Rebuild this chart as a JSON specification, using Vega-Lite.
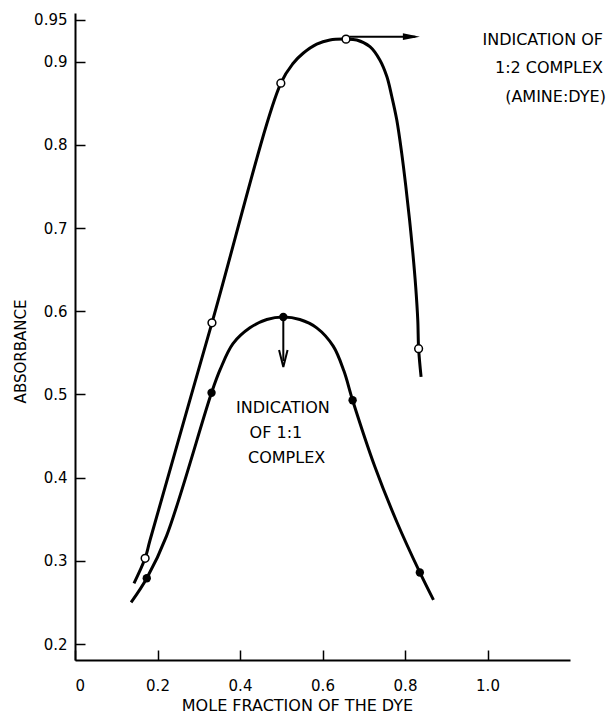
{
  "$schema": "https://vega.github.io/schema/vega-lite/v6.json",
  "width": 495,
  "height": 647,
  "autosize": {"type": "none"},
  "padding": {"left": 75, "top": 13, "right": 45, "bottom": 53},
  "background": "white",
  "config": {
    "view": {"stroke": null},
    "font": "DejaVu Sans",
    "axis": {
      "grid": false,
      "domainColor": "black",
      "domainWidth": 2,
      "tickColor": "black",
      "tickWidth": 1.5,
      "tickSize": -10,
      "labelColor": "black",
      "titleColor": "black",
      "titleFontWeight": "normal"
    }
  },
  "datasets": {
    "upperCurve": [
      {"x": 0.143, "y": 0.273},
      {"x": 0.170, "y": 0.303},
      {"x": 0.182, "y": 0.325},
      {"x": 0.332, "y": 0.586},
      {"x": 0.499, "y": 0.874},
      {"x": 0.529, "y": 0.898},
      {"x": 0.553, "y": 0.910},
      {"x": 0.586, "y": 0.921},
      {"x": 0.618, "y": 0.926},
      {"x": 0.657, "y": 0.927},
      {"x": 0.683, "y": 0.926},
      {"x": 0.715, "y": 0.918},
      {"x": 0.739, "y": 0.902},
      {"x": 0.756, "y": 0.882},
      {"x": 0.768, "y": 0.858},
      {"x": 0.780, "y": 0.830},
      {"x": 0.792, "y": 0.790},
      {"x": 0.802, "y": 0.750},
      {"x": 0.811, "y": 0.710},
      {"x": 0.819, "y": 0.670},
      {"x": 0.826, "y": 0.629},
      {"x": 0.831, "y": 0.589},
      {"x": 0.833, "y": 0.555},
      {"x": 0.839, "y": 0.521}
    ],
    "lowerCurve": [
      {"x": 0.136, "y": 0.250},
      {"x": 0.174, "y": 0.279},
      {"x": 0.222, "y": 0.330},
      {"x": 0.331, "y": 0.502},
      {"x": 0.352, "y": 0.530},
      {"x": 0.383, "y": 0.561},
      {"x": 0.424, "y": 0.580},
      {"x": 0.465, "y": 0.590},
      {"x": 0.505, "y": 0.593},
      {"x": 0.545, "y": 0.590},
      {"x": 0.586, "y": 0.580},
      {"x": 0.626, "y": 0.558},
      {"x": 0.652, "y": 0.528},
      {"x": 0.673, "y": 0.493},
      {"x": 0.727, "y": 0.413},
      {"x": 0.780, "y": 0.347},
      {"x": 0.836, "y": 0.286},
      {"x": 0.869, "y": 0.253}
    ],
    "upperPoints": [
      {"x": 0.170, "y": 0.303},
      {"x": 0.332, "y": 0.586},
      {"x": 0.499, "y": 0.874},
      {"x": 0.657, "y": 0.927},
      {"x": 0.833, "y": 0.555}
    ],
    "lowerPoints": [
      {"x": 0.174, "y": 0.279},
      {"x": 0.331, "y": 0.502},
      {"x": 0.505, "y": 0.593},
      {"x": 0.673, "y": 0.493},
      {"x": 0.836, "y": 0.286}
    ],
    "arrowShafts": [
      {"x": 0.665, "y": 0.930, "x2": 0.825, "y2": 0.930},
      {"x": 0.505, "y": 0.593, "x2": 0.505, "y2": 0.540}
    ],
    "arrowRight": [{"x": 0.836, "y": 0.930}],
    "arrowDown": [{"x": 0.505, "y": 0.533}],
    "labelRight": [
      {"x": 1.28, "y": 0.926, "label": "INDICATION OF"},
      {"x": 1.28, "y": 0.892, "label": "1:2 COMPLEX"},
      {"x": 1.287, "y": 0.857, "label": "(AMINE:DYE)"}
    ],
    "labelCenter": [
      {"x": 0.504, "y": 0.484, "label": "INDICATION"},
      {"x": 0.487, "y": 0.454, "label": "OF 1:1"},
      {"x": 0.513, "y": 0.424, "label": "COMPLEX"}
    ]
  },
  "encoding": {
    "x": {
      "field": "x",
      "type": "quantitative",
      "scale": {"domain": [0, 1.2], "nice": false, "zero": false},
      "axis": {
        "values": [0, 0.2, 0.4, 0.6, 0.8, 1.0],
        "labelExpr": "datum.value == 0 ? '0' : format(datum.value, '.1f')",
        "labelFont": "DejaVu Sans",
        "labelFontSize": 15,
        "labelColor": "black",
        "labelPadding": 28,
        "tickSize": -10,
        "title": "MOLE FRACTION OF THE DYE",
        "titleFont": "DejaVu Sans",
        "titleFontSize": 16,
        "titleFontWeight": "normal",
        "titleX": 222,
        "titleY": 45,
        "titleAlign": "center",
        "titleBaseline": "middle"
      }
    },
    "y": {
      "field": "y",
      "type": "quantitative",
      "scale": {"domain": [0.1808, 0.9584], "nice": false, "zero": false},
      "axis": {
        "values": [0.2, 0.3, 0.4, 0.5, 0.6, 0.7, 0.8, 0.9, 0.95],
        "format": ".2~f",
        "labelFont": "DejaVu Sans",
        "labelFontSize": 15,
        "labelColor": "black",
        "labelPadding": 18,
        "tickSize": -10,
        "title": "ABSORBANCE",
        "titleFont": "DejaVu Sans",
        "titleFontSize": 15,
        "titleFontWeight": "normal",
        "titleAngle": 270,
        "titleX": -55,
        "titleY": 338,
        "titleAlign": "center",
        "titleBaseline": "middle"
      }
    }
  },
  "layer": [
    {
      "data": {"name": "upperCurve"},
      "mark": {"type": "line", "color": "black", "strokeWidth": 3, "interpolate": "catmull-rom"}
    },
    {
      "data": {"name": "lowerCurve"},
      "mark": {"type": "line", "color": "black", "strokeWidth": 3, "interpolate": "catmull-rom"}
    },
    {
      "data": {"name": "arrowShafts"},
      "mark": {"type": "rule", "color": "black", "strokeWidth": 2},
      "encoding": {"x2": {"field": "x2"}, "y2": {"field": "y2"}}
    },
    {
      "data": {"name": "upperPoints"},
      "mark": {"type": "point", "shape": "circle", "filled": true, "fill": "white", "stroke": "black", "strokeWidth": 1.5, "size": 60, "opacity": 1}
    },
    {
      "data": {"name": "lowerPoints"},
      "mark": {"type": "point", "shape": "circle", "filled": true, "color": "black", "size": 70, "opacity": 1}
    },
    {
      "data": {"name": "arrowRight"},
      "mark": {"type": "point", "shape": "M0,0 L-2,-0.4 L-2,0.4 Z", "filled": true, "color": "black", "size": 289, "opacity": 1}
    },
    {
      "data": {"name": "arrowDown"},
      "mark": {"type": "point", "shape": "M-0.5,-2 L0,0 L0.5,-2", "filled": false, "fill": null, "stroke": "black", "strokeWidth": 2, "size": 289, "opacity": 1}
    },
    {
      "data": {"name": "labelRight"},
      "mark": {"type": "text", "align": "right", "baseline": "middle", "fontSize": 16, "color": "black", "font": "DejaVu Sans"},
      "encoding": {"text": {"field": "label"}}
    },
    {
      "data": {"name": "labelCenter"},
      "mark": {"type": "text", "align": "center", "baseline": "middle", "fontSize": 16, "color": "black", "font": "DejaVu Sans"},
      "encoding": {"text": {"field": "label"}}
    }
  ]
}
